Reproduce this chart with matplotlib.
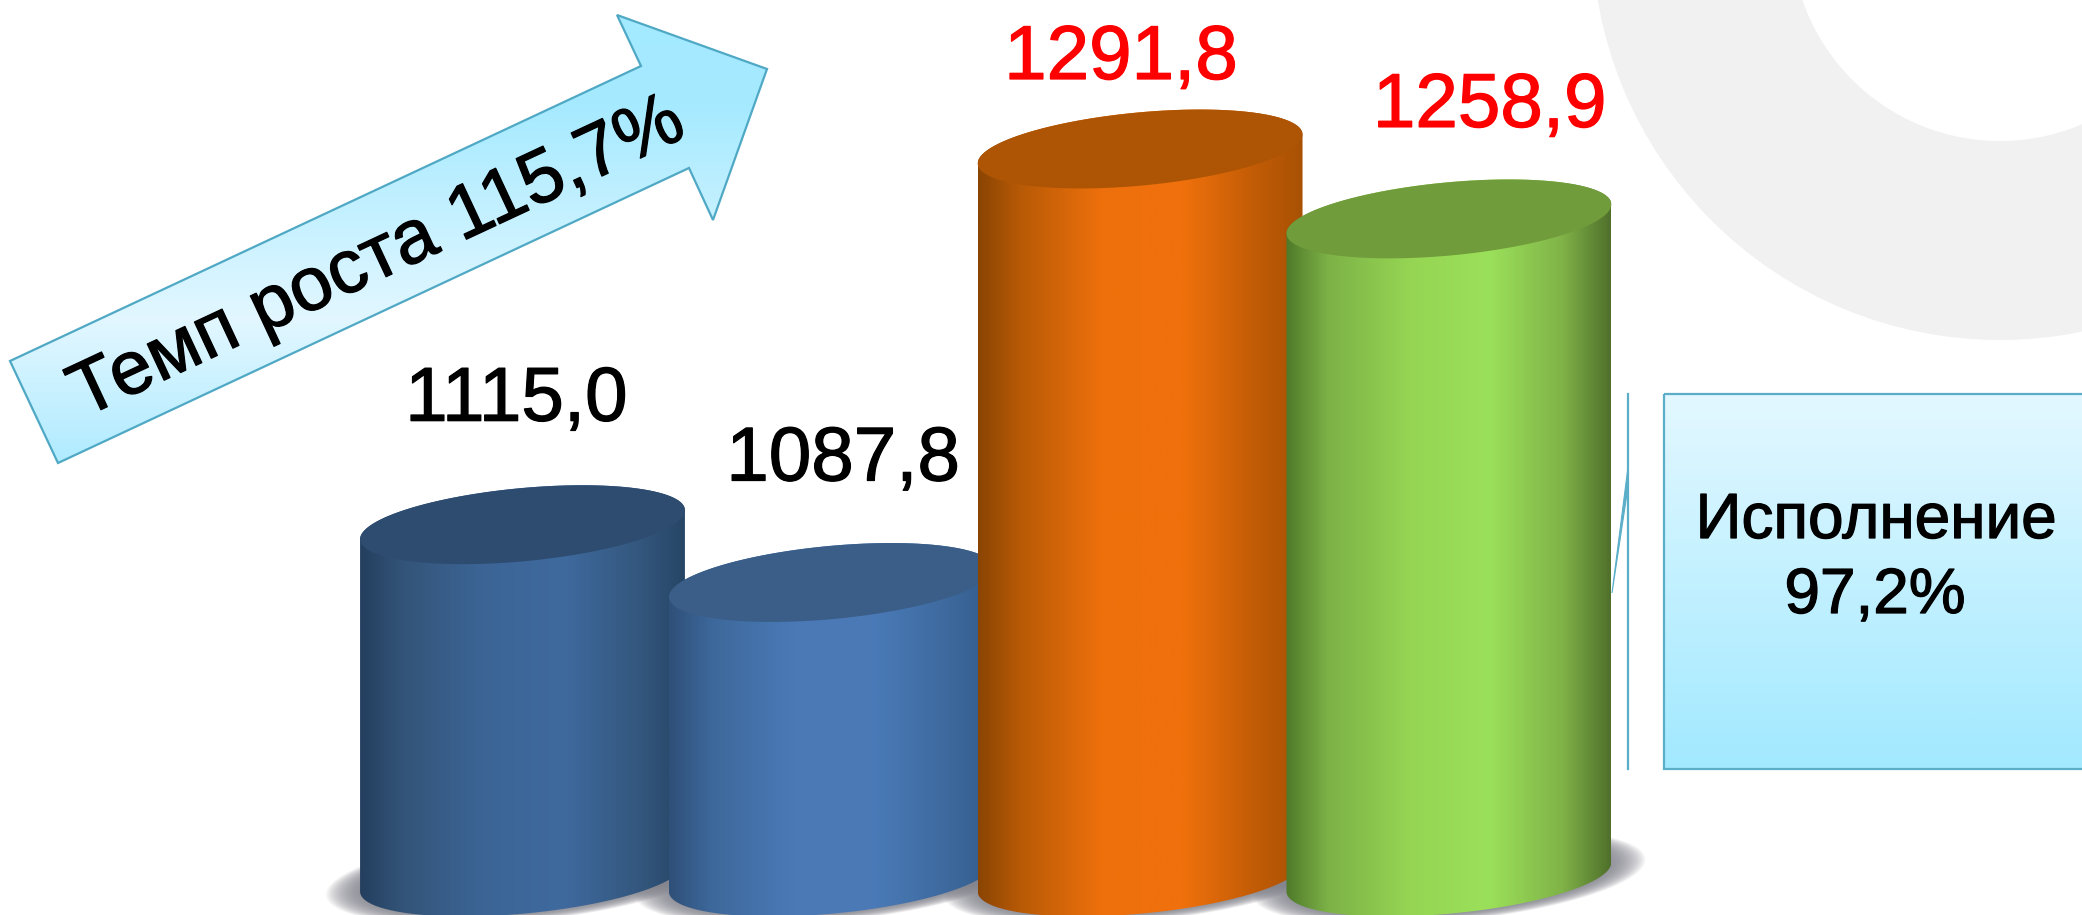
#! /usr/bin/python

import numpy as np
import matplotlib as mpl

mpl.use('agg')

import matplotlib.pyplot as plt
import matplotlib.patheffects as pe
from matplotlib.colors import LinearSegmentedColormap
from matplotlib.patches import Annulus, Polygon

plt.rc('font', family = 'Liberation Sans')

values = [1115.0, 1087.8, 1291.8, 1258.9]
value_labels = ["1115,0", "1087,8", "1291,8", "1258,9"]
label_colors = ['black', 'black', 'red', 'red']
growth_text = "Темп роста 115,7%"
execution_lines = ["Исполнение", "97,2%"]

# label position relative to the bar top, in pixels
label_dx = [-6, 12, -19, 41]
label_dy = [104, 102, 70, 92]

cap_colors = ['#2e4c70', '#3a5e88', '#ad5505', '#719c3c']
side_colors = [
    ['#243f5f', '#335478', '#3c6596', '#3f6a9e', '#34587f', '#274666'],
    ['#2f5078', '#3d689b', '#4a79b6', '#4a7ab7', '#3e6a9f', '#345c8a'],
    ['#8a4503', '#b85a06', '#ee700c', '#f0710c', '#c25c06', '#a85104'],
    ['#4f7a2a', '#7db247', '#95d553', '#9be05a', '#80b348', '#50702b'],
]
side_stops = [0, 0.13, 0.38, 0.63, 0.85, 1]

baseline = 949.2
bar_width = 1.052
px_per_value = 2.125
px_per_cat = 308.8
rim_tilt = 14.5
rim_open = 36.7

heavy = [pe.withStroke(linewidth = 0.9, foreground = 'black')]
heavy_red = [pe.withStroke(linewidth = 0.9, foreground = 'red')]


def rim(i, v, start, stop, scale = 1.0):
    t = np.linspace(start, stop, 120)
    x = i + scale * bar_width / 2 * np.cos(t)
    y = v + scale * (rim_tilt * np.cos(t) + rim_open * np.sin(t)) / px_per_value
    return np.column_stack((x, y))


def gradient(ax, colors, stops, extent, clip, zorder, vertical = False):
    cmap = LinearSegmentedColormap.from_list('fill', list(zip(stops, colors)))
    ramp = np.linspace(0, 1, 512)
    ramp = ramp.reshape(-1, 1) if vertical else ramp.reshape(1, -1)
    im = ax.imshow(ramp, cmap = cmap, extent = extent, aspect = 'auto',
                   origin = 'upper', zorder = zorder)
    im.set_clip_path(clip)


fig = plt.figure(1, figsize=(20.82, 9.15), dpi = 100, facecolor = 'white')

# decorations are placed in picture pixels
deco = fig.add_axes([0, 0, 1, 1])
deco.axis('off')

deco.add_patch(Annulus((2000, -68), 408, 199, facecolor = '#f1f1f1', edgecolor = 'none'))

arrow_points = [(10, 361), (641, 66), (617, 15), (767, 69), (713, 220), (689, 168), (58, 463)]
arrow = Polygon(arrow_points, closed = True, facecolor = 'none', edgecolor = '#4fa8c4',
                linewidth = 1.6, zorder = 3)
deco.add_patch(arrow)
gradient(deco, ['#a3e9ff', '#a6eaff', '#e2f7ff', '#b0ebff'], [0, 0.2, 0.68, 1],
         (0, 780, 463, 15), arrow, 2, vertical = True)
deco.text(378, 259, growth_text, rotation = 25, rotation_mode = 'anchor', ha = 'center',
          va = 'center', fontsize = 54.5, color = 'black', zorder = 4, path_effects = heavy)

box = Polygon([(1664, 394), (2090, 394), (2090, 769), (1664, 769)], closed = True,
              facecolor = 'none', edgecolor = '#5aaec8', linewidth = 1.6, zorder = 3)
deco.add_patch(box)
gradient(deco, ['#e3f8ff', '#a2e9ff'], [0, 1], (1664, 2082, 769, 394), box, 2, vertical = True)
deco.plot([1628, 1628], [394, 769], color = '#5aaec8', linewidth = 1.6, zorder = 3)
deco.add_patch(Polygon([(1628, 467), (1612, 593), (1628, 487)], closed = True,
                       facecolor = '#5aaec8', edgecolor = '#5aaec8', linewidth = 0.8, zorder = 3))
deco.text(1876, 538, execution_lines[0], ha = 'center', va = 'baseline', fontsize = 46,
          zorder = 4, path_effects = heavy)
deco.text(1875, 613, execution_lines[1], ha = 'center', va = 'baseline', fontsize = 46,
          zorder = 4, path_effects = heavy)

deco.set_xlim(0, 2082)
deco.set_ylim(915, 0)

# the bars themselves, on a truncated value axis
ax = fig.add_axes([0, 0, 1, 1])
ax.axis('off')
ax.patch.set_alpha(0)

for i in range(len(values)):
    for scale in np.linspace(1.21, 1.0, 24):
        ax.add_patch(Polygon(rim(i, baseline, 0, 2 * np.pi, scale), closed = True,
                             facecolor = '#85858f', edgecolor = 'none', alpha = 0.07,
                             zorder = 1))

for i, v in enumerate(values):
    z = 10 + i * 3
    left = i - bar_width / 2
    right = i + bar_width / 2
    body_points = np.vstack((rim(i, baseline, np.pi, 2 * np.pi), rim(i, v, 0, np.pi)))
    body = Polygon(body_points, closed = True, facecolor = 'none', edgecolor = 'none', zorder = z)
    ax.add_patch(body)
    gradient(ax, side_colors[i], side_stops, (left, right, baseline - 30, v + 30), body, z)
    ax.add_patch(Polygon(rim(i, v, 0, 2 * np.pi), closed = True, facecolor = cap_colors[i],
                         edgecolor = 'none', zorder = z + 1))
    ax.annotate(value_labels[i], xy = (i, v), xytext = (label_dx[i], label_dy[i]),
                textcoords = 'offset pixels', ha = 'center', va = 'baseline',
                fontsize = 55, color = label_colors[i], zorder = 40,
                path_effects = heavy_red if label_colors[i] == 'red' else heavy)

ax.set_xlim(-522.5 / px_per_cat, (2082 - 522.5) / px_per_cat)
ax.set_ylim(1291.8 - 766 / px_per_value, 1291.8 + 149 / px_per_value)

fig.savefig('out.png', dpi = 100)
